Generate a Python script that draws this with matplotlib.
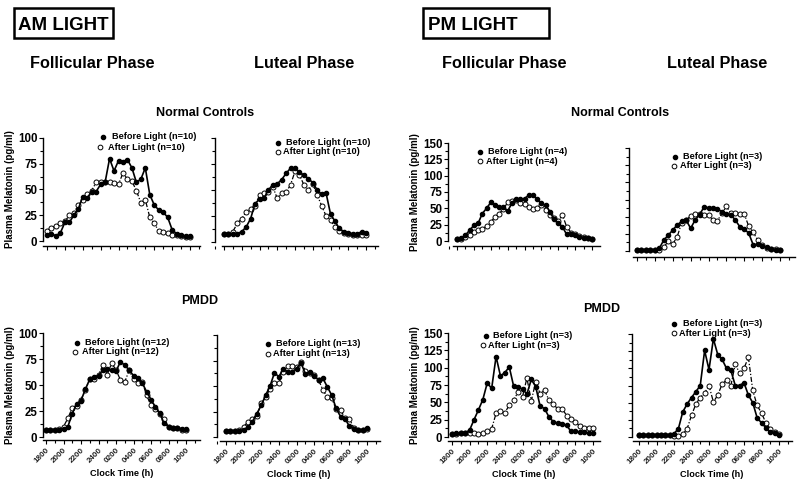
import matplotlib
matplotlib.use('Agg')
import matplotlib.pyplot as plt
from matplotlib.lines import Line2D
from matplotlib.patches import Rectangle
from matplotlib.ticker import MultipleLocator
import numpy as np

plt.rcParams['font.family'] = ['Liberation Sans', 'DejaVu Sans']
plt.rcParams['font.weight'] = 'bold'

W, H = 800, 479

time_labels = ['1800', '2000', '2200', '2400', '0200', '0400', '0600', '0800', '1000']

am_foll_nc_before = [5.5, 7, 5, 8, 18, 18, 25, 31, 43, 42, 48, 48, 55, 57, 80, 68, 78, 77, 79, 71,
                     57, 60, 71, 45, 35, 30, 28, 23, 11, 7, 6, 5, 4.5]
am_foll_nc_after = [10, 13, 15, 17, 19, 25, 27, 35, 40, 46, 49, 57, 57, 57, 57, 56, 55, 66, 60, 58,
                    49, 37, 40, 23, 17, 10, 9, 7.5, 6, 5.5, 5, 4, 4]
am_lut_nc_before = [7.5, 7.5, 7.5, 8, 10, 14.5, 22.5, 37, 41, 42, 50, 55, 56, 60, 66, 71, 71, 67, 64.5, 61,
                    57, 50, 46, 47, 27, 20, 13, 10, 9, 8, 7.5, 10, 9]
am_lut_nc_after = [7.5, 7.5, 10, 18, 22.5, 29, 32, 35, 45, 47, 48, 53, 42, 47, 48, 55, 68, 64.5, 55, 50,
                   56, 45, 35, 25, 21, 14.5, 11, 9, 8, 7, 6.5, 7, 6.5]
pm_foll_nc_before = [2.5, 4.5, 9, 16.5, 24, 27, 42, 50, 59, 55, 52, 52, 46, 57.5, 65, 64, 65, 70, 70, 64,
                     57.5, 55, 45, 33, 28, 21.5, 10, 11, 9, 6, 4.5, 4.5, 3.5]
pm_foll_nc_after = [2.5, 2.5, 6, 9, 14, 16.5, 19, 22.5, 29, 37, 42, 49, 59, 61, 63, 57.5, 56, 52, 49, 50,
                    55, 47, 40, 35, 30, 40, 21.5, 13, 10, 8, 6, 4.5, 3.5]
pm_lut_nc_before = [1.5, 1.5, 1.5, 1.5, 1.5, 4, 16, 23, 30.5, 38, 43, 45, 33, 45, 53, 64, 63, 63, 61, 57.5,
                    54, 53, 45, 35.5, 32, 26, 9, 10, 7, 5.5, 2.5, 1.5, 1]
pm_lut_nc_after = [1, 1, 1, 1, 1, 1.5, 6, 14, 10, 21, 41, 45, 51, 54, 54, 53, 52, 45, 44, 55,
                   65, 55, 56, 54, 54, 36, 27, 16, 9, 4, 3, 3, 1.5]

am_foll_pmdd_before = [7, 7, 7, 7, 8, 10, 22.5, 32, 35, 46, 55.5, 58, 59, 64.5, 65.5, 64.5, 63, 72.5, 69, 64.5,
                       59, 57, 52, 43.5, 36, 29, 23, 13, 10, 9, 9, 8, 7.5]
am_foll_pmdd_after = [7, 7, 7, 8, 10, 18, 28, 30, 36, 45, 56, 55.5, 60, 69, 60, 71, 64.5, 55, 53, 64,
                      55.5, 52, 53, 40, 30.5, 26.5, 22.5, 17, 10, 9, 9, 7, 7]
am_lut_pmdd_before = [6, 6, 6, 6, 7, 10, 15, 23, 31, 41, 50, 63, 59, 67, 64, 64, 67, 73, 62, 64,
                      60, 56, 57.5, 49, 41, 28, 20, 18, 10.5, 8, 7, 7, 9]
am_lut_pmdd_after = [6, 6, 6, 6.5, 10, 15, 18, 21, 33, 39, 47.5, 53, 53, 64, 69.5, 69.5, 69, 74, 65, 63,
                     60.5, 56, 46, 39, 38, 27, 26, 19, 18, 9, 7, 7, 8]
pm_foll_pmdd_before = [5, 6, 6, 6, 10, 25, 39, 54, 78, 70, 116, 88, 93, 101, 73, 72, 69, 62, 83, 72.5,
                       44.5, 41, 29, 22, 20, 19, 17, 8, 8, 7, 7, 6, 6]
pm_foll_pmdd_after = [5, 5, 6, 6, 6, 6, 5, 6, 8, 12, 34, 38, 35, 46, 53, 65, 58, 85, 52, 80,
                      62, 68, 53, 48, 40, 41, 31, 26.5, 22, 15.5, 13.5, 13.5, 13.5]
pm_lut_pmdd_before = [2.5, 2.5, 2.5, 2.5, 2.5, 2.5, 2.5, 3.5, 5, 12, 36.5, 48, 57.5, 66, 75, 126, 98, 143, 120, 113,
                      100, 97, 75, 75, 79, 61, 50, 28, 20.5, 13.5, 7, 6, 3.5]
pm_lut_pmdd_after = [2.5, 2.5, 2.5, 2.5, 2.5, 2.5, 2.5, 2.5, 1.5, 1.5, 4, 12, 31.5, 48, 57.5, 64, 75, 51, 61, 77,
                     83, 75, 106, 93, 100, 116, 68, 46, 35, 20.5, 12, 7, 4]

n_before = [10, 10, 4, 3, 12, 13, 3, 3]
n_after = [10, 10, 4, 3, 12, 13, 3, 3]

fig = plt.figure(figsize=(W / 100, H / 100), dpi=100)


def fx(px):
    return px / W


def fy(py):
    return 1 - py / H


# panel geometry in pixels: yaxis x, right x, ytop, y0, xaxis y, first data x, last data x, ymax, xaxis start
panels = [
    dict(g=(43, 200, 138, 241, 246, 47, 190, 100, 43), yl=True, xl=False,
         b=am_foll_nc_before, a=am_foll_nc_after,
         leg=((103, 137, 112), (100, 147, 108))),
    dict(g=(215, 378, 138, 242, 246, 224, 366, 100, 222), yl=False, xl=False,
         b=am_lut_nc_before, a=am_lut_nc_after,
         leg=((278, 142.5, 286), (278, 152, 283))),
    dict(g=(448, 600, 143, 241, 246, 457, 592, 150, 453), yl=True, xl=False,
         b=pm_foll_nc_before, a=pm_foll_nc_after,
         leg=((480, 151.5, 488), (480, 161, 486))),
    dict(g=(629, 795, 148, 251, 257, 637, 780, 150, 633), yl=False, xl=False,
         b=pm_lut_nc_before, a=pm_lut_nc_after,
         leg=((675, 156.5, 683), (674, 166, 680))),
    dict(g=(43, 200, 333, 437, 440, 46, 186, 100, 43), yl=True, xl=True,
         b=am_foll_pmdd_before, a=am_foll_pmdd_after,
         leg=((77, 342.5, 85), (75, 352, 82))),
    dict(g=(217, 380, 335, 437, 441, 226, 367, 100, 220), yl=False, xl=True,
         b=am_lut_pmdd_before, a=am_lut_pmdd_after,
         leg=((268, 344, 276), (268, 353.5, 273))),
    dict(g=(448, 600, 333, 437, 441, 452, 593, 150, 448), yl=True, xl=True,
         b=pm_foll_pmdd_before, a=pm_foll_pmdd_after,
         leg=((486, 335.5, 493), (483, 345, 488))),
    dict(g=(632, 792, 334, 437, 441, 639, 779, 150, 633), yl=False, xl=True,
         b=pm_lut_pmdd_before, a=pm_lut_pmdd_after,
         leg=((674, 323.5, 683), (674, 333, 679))),
]

after_ls = (0, (4, 1.5, 1, 1.5))

for i, p in enumerate(panels):
    yl, r, yt, y0, xa, d0, d1, ymax, xs = p['g']
    ax = fig.add_axes([fx(yl), fy(y0), (r - yl) / W, (y0 - yt) / H])
    s = (d1 - d0) / 32.0
    x = np.arange(len(p['b']))
    ax.set_xlim(-(d0 - yl) / s, 32 + (r - d1) / s)
    ax.set_ylim(0, ymax)
    ax.plot(x, p['a'], color='black', lw=0.9, ls=after_ls, marker='o', ms=3.6,
            mfc='white', mec='black', mew=0.7, clip_on=False, zorder=3)
    ax.plot(x, p['b'], color='black', lw=1.2, ls='-', marker='o', ms=3.0,
            mfc='black', mec='black', clip_on=False, zorder=4)
    for sp in ('top', 'right'):
        ax.spines[sp].set_visible(False)
    ax.spines['left'].set_linewidth(1.0)
    ax.spines['bottom'].set_linewidth(1.0)
    ax.spines['bottom'].set_position(('outward', (xa - y0) * 0.72))
    ax.spines['bottom'].set_bounds(-(d0 - xs) / s, 32 + (r - d1) / s)
    ax.yaxis.set_major_locator(MultipleLocator(25))
    ax.yaxis.set_minor_locator(MultipleLocator(12.5))
    ax.set_xticks(np.arange(0, 33, 4))
    ax.xaxis.set_minor_locator(MultipleLocator(2))
    ax.tick_params(axis='both', which='both', direction='out', width=0.8, color='black')
    ax.tick_params(axis='both', which='major', length=3)
    ax.tick_params(axis='both', which='minor', length=2.5)
    ax.tick_params(axis='y', labelsize=8.3, pad=1)
    if not p['yl']:
        ax.set_yticklabels([])
    if p['xl']:
        ax.set_xticklabels(time_labels, rotation=45, ha='right', rotation_mode='anchor',
                           fontsize=5.8, fontweight='bold', color='#222222')
        ax.tick_params(axis='x', pad=2)
        ax.set_xlabel('Clock Time (h)', fontsize=6.6, fontweight='bold', labelpad=3)
    else:
        ax.set_xticklabels([])
    if p['yl']:
        ax.set_ylabel('Plasma Melatonin (pg/ml)', fontsize=7, fontweight='bold', labelpad=2)
    for lbl in ax.get_yticklabels():
        lbl.set_fontweight('bold')
    # legend (manual)
    (bmx, bmy, btx), (amx, amy, atx) = p['leg']
    fig.add_artist(Line2D([fx(bmx)], [fy(bmy)], transform=fig.transFigure, marker='o',
                          ms=3.0, mfc='black', mec='black', ls='none'))
    fig.text(fx(btx), fy(bmy), 'Before Light (n=%d)' % n_before[i], fontsize=6.6,
             fontweight='bold', va='center', ha='left')
    fig.add_artist(Line2D([fx(amx)], [fy(amy)], transform=fig.transFigure, marker='o',
                          ms=3.4, mfc='white', mec='black', mew=0.7, ls='none'))
    fig.text(fx(atx), fy(amy), 'After Light (n=%d)' % n_after[i], fontsize=6.6,
             fontweight='bold', va='center', ha='left')

# header boxes
fig.add_artist(Rectangle((fx(14), fy(38)), (113 - 14) / W, 30 / H, transform=fig.transFigure,
                         fill=False, lw=1.8, ec='black'))
fig.text(fx(18), fy(30.5), 'AM LIGHT', fontsize=13.5, fontweight='bold', va='baseline', ha='left')
fig.add_artist(Rectangle((fx(423), fy(38)), (549 - 423) / W, 30 / H, transform=fig.transFigure,
                         fill=False, lw=1.8, ec='black'))
fig.text(fx(428), fy(30.5), 'PM LIGHT', fontsize=13.5, fontweight='bold', va='baseline', ha='left')

# phase titles
for cx, t in [(92, 'Follicular Phase'), (304, 'Luteal Phase'), (504, 'Follicular Phase'), (717, 'Luteal Phase')]:
    fig.text(fx(cx), fy(68), t, fontsize=11.7, fontweight='bold', ha='center', va='baseline')

# group titles
fig.text(fx(205), fy(115.5), 'Normal Controls', fontsize=9, fontweight='bold', ha='center', va='baseline')
fig.text(fx(620), fy(115.5), 'Normal Controls', fontsize=9, fontweight='bold', ha='center', va='baseline')
fig.text(fx(200), fy(304), 'PMDD', fontsize=9, fontweight='bold', ha='center', va='baseline')
fig.text(fx(602), fy(312), 'PMDD', fontsize=9, fontweight='bold', ha='center', va='baseline')

fig.savefig('out.png', dpi=100, facecolor='white')
